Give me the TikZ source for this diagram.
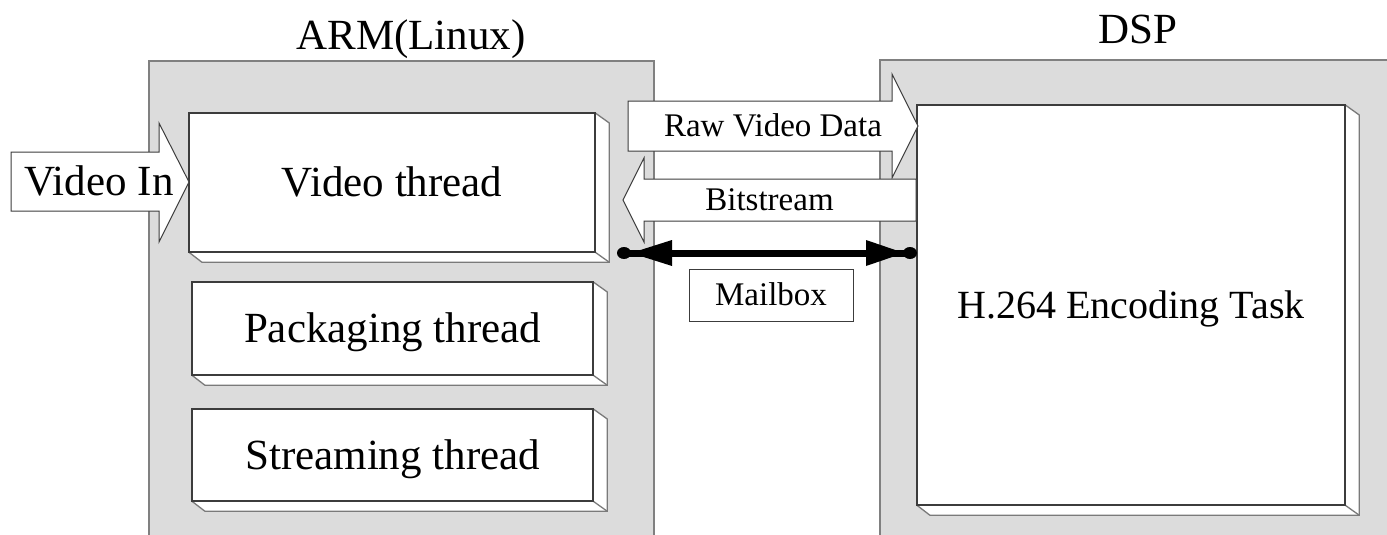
\documentclass[tikz,border=0pt]{standalone}
\usepackage{fontspec}
\setmainfont{Liberation Serif}
\definecolor{panelgray}{HTML}{DCDCDC}
\definecolor{paneledge}{HTML}{808080}
\definecolor{facedark}{HTML}{3C3C3C}
\definecolor{slabedge}{HTML}{7A7A7A}
\begin{document}
\begin{tikzpicture}[x=1pt,y=-1pt,
  panel/.style={fill=panelgray,draw=paneledge,line width=1.5pt},
  face/.style={fill=white,draw=facedark,line width=1.3pt,inner sep=0pt,
    text height=28.4pt,text depth=0pt,font=\fontsize{43}{43}\selectfont},
  slabline/.style={draw=slabedge,line width=1.3pt,line join=miter},
  blockarrow/.style={fill=white,draw=facedark,line width=1pt,line join=miter},
  bigtext/.style={inner sep=0pt,text height=28.4pt,text depth=0pt,
    font=\fontsize{43}{43}\selectfont},
  midtext/.style={inner sep=0pt,text height=21.8pt,text depth=0pt,
    font=\fontsize{33}{33}\selectfont},
  title/.style={inner sep=0pt,anchor=base,font=\fontsize{43}{43}\selectfont},
  mailline/.style={line width=7pt,draw=black},
]
\useasboundingbox (0,0) rectangle (1387,535);
\clip (0,0) rectangle (1387,535);

% processor panels
\path[panel] (149,61) rectangle (654,560);
\path[panel] (880,60) rectangle (1400,560);
\node[title] (armtitle) at (411,50) {ARM(Linux)};
\node[title] (dsptitle) at (1138,44) {DSP};

% thread / task blocks (front faces)
\node[face,minimum width=405pt,minimum height=138pt,anchor=north west] (vid) at (189,113) {Video thread};
\node[face,minimum width=400pt,minimum height=92pt,anchor=north west] (pkg) at (192,282) {Packaging thread};
\node[face,minimum width=400pt,minimum height=91pt,anchor=north west] (stm) at (192,409) {Streaming thread};
\node[face,minimum width=427pt,minimum height=399pt,anchor=north west,
      text height=26.4pt,font=\fontsize{40}{40}\selectfont] (enc) at (917,105) {H.264 Encoding Task};

% extruded side and bottom of each block
\foreach \b in {vid,pkg,stm,enc}{
  \fill[white] (\b.north east) -- ++(14,10) -- ([shift={(14,10)}]\b.south east)
    -- ([shift={(13,10)}]\b.south west) -- (\b.south west) -- (\b.south east) -- cycle;
  \draw[slabline] (\b.north east) -- ++(14,10) -- ([shift={(14,10)}]\b.south east)
    -- ([shift={(13,10)}]\b.south west) -- (\b.south west);
  \draw[slabline] (\b.south east) -- ([shift={(14,10)}]\b.south east);
  \draw[draw=facedark,line width=1.3pt] (\b.north west) rectangle (\b.south east);
}

% block arrows
\draw[blockarrow] (11,152) -- (159,152) -- (159,123) -- (189,182) -- (159,242)
  -- (159,211) -- (11,211) -- cycle;
\node[bigtext] (vin) at (99,181) {Video In};

\draw[blockarrow] (628,101) -- (892,101) -- (892,74) -- (918,126) -- (892,178)
  -- (892,151) -- (628,151) -- cycle;
\node[midtext] (raw) at (773,126) {Raw Video Data};

\draw[blockarrow] (916,179) -- (644,179) -- (644,158) -- (623,200) -- (644,242)
  -- (644,221) -- (916,221) -- cycle;
\node[midtext] (bits) at (769.5,200) {Bitstream};

% mailbox link
\coordinate (mbl) at (617,253);
\coordinate (mbr) at (917,253);
\draw[mailline] ([xshift=7]mbl) -- ([xshift=-7]mbr);
\fill ([xshift=7]mbl) ellipse [x radius=7, y radius=6];
\fill ([xshift=-7]mbr) ellipse [x radius=7, y radius=6];
\fill ([xshift=14]mbl) -- ([shift={(55,-13)}]mbl) -- ([shift={(55,13)}]mbl) -- cycle;
\fill ([xshift=-13]mbr) -- ([shift={(-51,-13)}]mbr) -- ([shift={(-51,13)}]mbr) -- cycle;
\node[midtext,draw=facedark,line width=1pt,minimum width=164pt,minimum height=52pt,
      fill=white] (mbox) at (771,295) {Mailbox};
\end{tikzpicture}
\end{document}
